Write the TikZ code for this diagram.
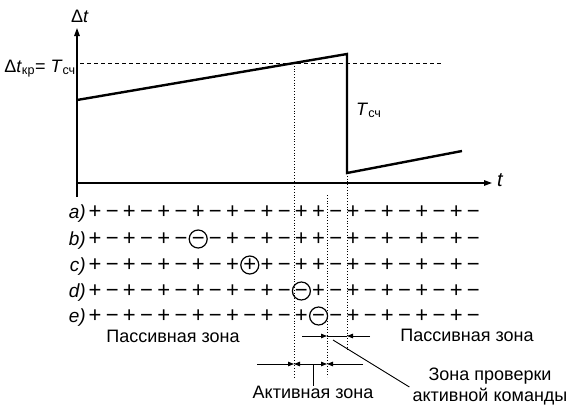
\documentclass[tikz,border=0pt]{standalone}
\usepackage{fontspec}
\setmainfont{Liberation Sans}
\usetikzlibrary{arrows.meta}
\begin{document}
\begin{tikzpicture}[x=1pt,y=-1pt,
  txt/.style={font=\fontsize{18}{21}\selectfont, inner sep=0pt},
  rowlab/.style={font=\fontsize{19}{19}\selectfont\itshape, inner sep=0pt, anchor=base east},
  sym/.style={font=\fontsize{22}{22}\selectfont, inner sep=0pt, text height=13pt, text depth=-2.4pt, anchor=center},
  csym/.style={sym, draw, circle, inner sep=-1pt, minimum size=18pt, line width=1.2pt},
  pl/.style={sym, node contents={+}},
  mi/.style={sym, node contents={−}},
  cpl/.style={csym, node contents={+}},
  cmi/.style={csym, node contents={−}},
  axis/.style={line width=1.3pt, -{Triangle[length=8pt,width=5.5pt]}},
  graphline/.style={line width=2.4pt, line join=miter},
  guide/.style={line width=0.8pt, dotted},
  dashline/.style={line width=0.9pt, dash pattern=on 4pt off 3pt},
  dim/.style={line width=0.9pt},
  dimar/.style={dim, -{Triangle[length=6pt,width=4.5pt]}},
  dimarr/.style={dim, {Triangle[length=6pt,width=4.5pt]}-{Triangle[length=6pt,width=4.5pt]}}
]
\useasboundingbox (0,0) rectangle (582,413);

% axes
\coordinate (ybot) at (77,197);
\coordinate (ytop) at (77,28);
\coordinate (O) at (77,183);
\coordinate (xend) at (492,183);
\draw[axis] (ybot) -- (ytop);
\draw[axis] (O) -- (xend);
\node[txt, anchor=base] (dtlab) at (80,22) {Δ\textit{t}};
\node[txt, anchor=base west, font=\fontsize{20}{20}\selectfont] (tlab) at (497,186) {\textit{t}};

% dashed critical level
\coordinate (d0) at (80,63);
\coordinate (d1) at (443,63);
\draw[dashline] (d0) -- (d1);
\node[txt, anchor=base east] (crit) at (76,72) {Δ\textit{t}\textsubscript{кр}= \textit{T}\textsubscript{сч}};

% guide lines
\coordinate (v1t) at (294,63);
\coordinate (v1b) at (294,377);
\coordinate (v2t) at (327,195);
\coordinate (v2b) at (327,377);
\coordinate (v3t) at (347,173);
\coordinate (v3b) at (347,352);
\draw[guide] (v1t) -- (v1b);
\draw[guide] (v2t) -- (v2b);
\draw[guide] (v3t) -- (v3b);

% graph
\coordinate (g0) at (77,100);
\coordinate (g1) at (347,54);
\coordinate (g2) at (347,173);
\coordinate (g3) at (462,151);
\draw[graphline] (g0) -- (g1) -- (g2) -- (g3);
\node[txt, anchor=base west] (tsch) at (356,115) {\textit{T}\textsubscript{сч}};

% rows
\foreach \r/\yy/\seq in {
  a/212/{pl,mi,pl,mi,pl,mi,pl,mi,pl,mi,pl,mi,pl,pl,mi,pl,mi,pl,mi,pl,mi,pl,mi},
  b/239/{pl,mi,pl,mi,pl,mi,cmi,mi,pl,mi,pl,mi,pl,pl,mi,pl,mi,pl,mi,pl,mi,pl,mi},
  c/265/{pl,mi,pl,mi,pl,mi,pl,mi,pl,cpl,pl,mi,pl,pl,mi,pl,mi,pl,mi,pl,mi,pl,mi},
  d/291/{pl,mi,pl,mi,pl,mi,pl,mi,pl,mi,pl,mi,cmi,pl,mi,pl,mi,pl,mi,pl,mi,pl,mi},
  e/316/{pl,mi,pl,mi,pl,mi,pl,mi,pl,mi,pl,mi,pl,cmi,mi,pl,mi,pl,mi,pl,mi,pl,mi}}{
  \node[rowlab] (lab-\r) at (86,\yy+6.5) {\r)};
  \foreach \s [count=\i from 0] in \seq {
    \node (\r-\i) at ({95+17.2*\i},\yy) [\s];
  }
}

% zone labels
\node[txt] (pass1) at (173,336) {Пассивная зона};
\node[txt] (pass2) at (467,335) {Пассивная зона};
\node[txt] (akt) at (313,392) {Активная зона};
\node[txt, align=center, inner sep=3pt] (zona) at (490,387) {Зона проверки\\активной команды};

% upper dimension (check zone)
\coordinate (u0) at (302,336);
\coordinate (u1) at (327,336);
\coordinate (u2) at (347,336);
\coordinate (u3) at (370,336);
\draw[dimar] (u0) -- (u1);
\draw[dim] (u1) -- (u2);
\draw[dimar] (u3) -- (u2);
\coordinate (lead) at (333,340);
\draw[dim] (lead) -- (zona.west);

% lower dimension (active zone)
\coordinate (l0) at (257,364);
\coordinate (l1) at (294,364);
\coordinate (l2) at (327,364);
\coordinate (l3) at (363,364);
\coordinate (lm) at (313,364);
\draw[dimar] (l0) -- (l1);
\draw[dimarr] (l1) -- (l2);
\draw[dimar] (l3) -- (l2);
\draw[dim] (lm) -- (akt.north);
\end{tikzpicture}
\end{document}
